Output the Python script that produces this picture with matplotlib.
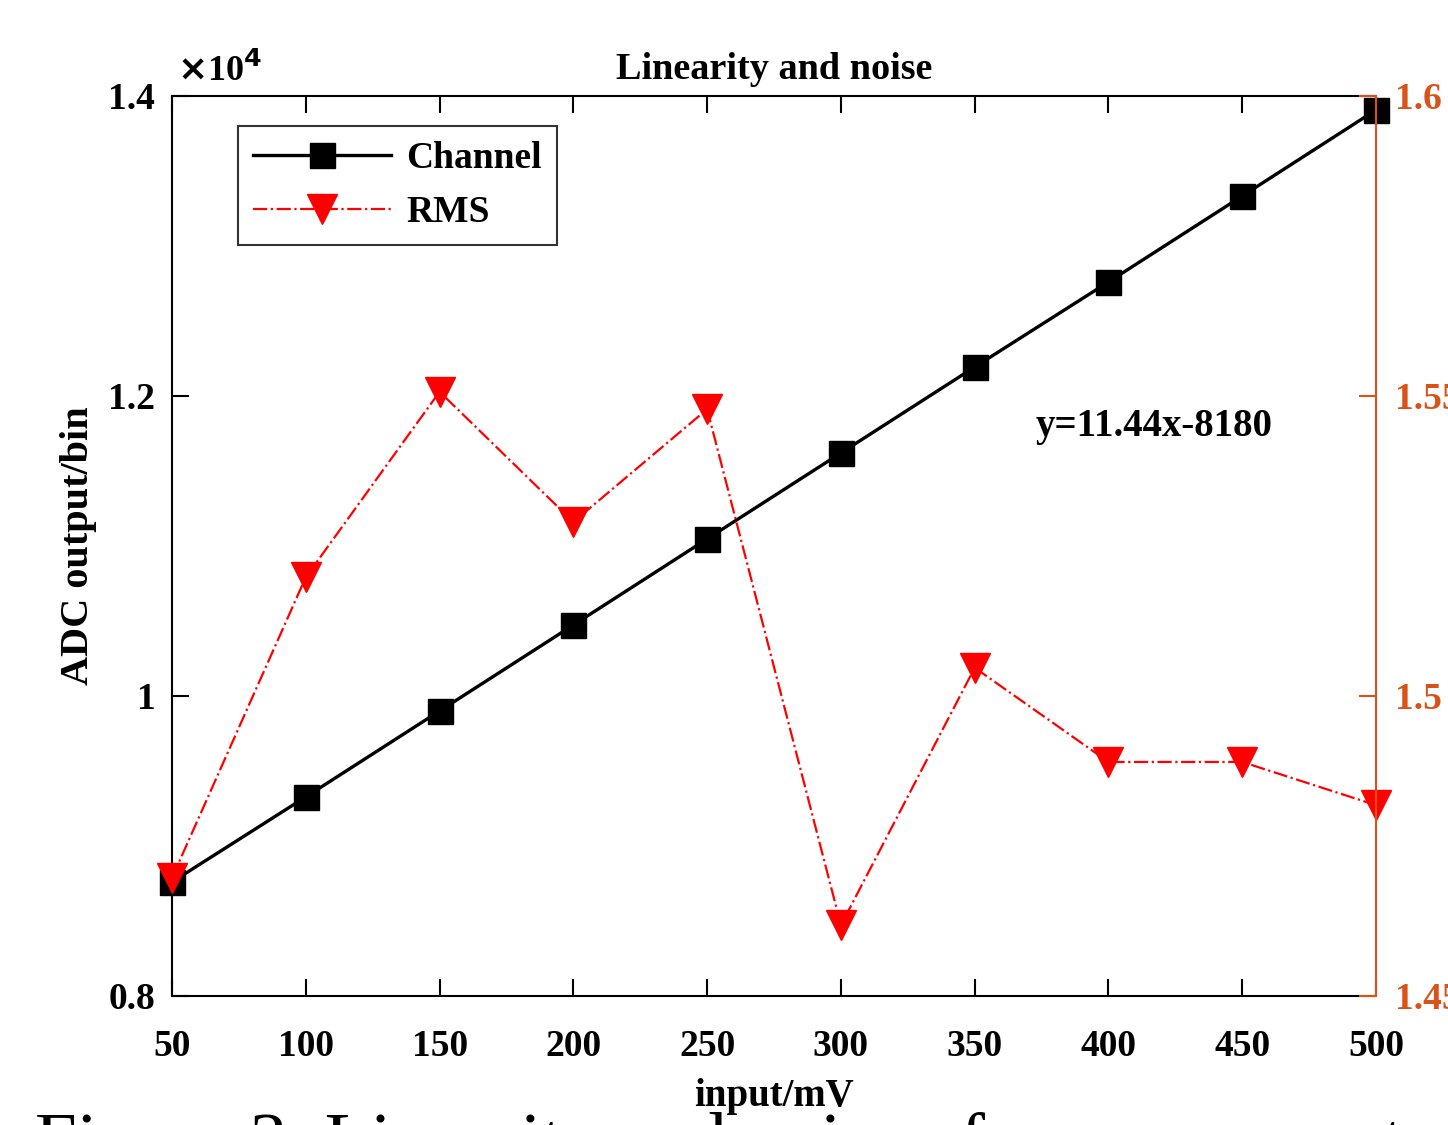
import matplotlib.pyplot as plt
import numpy as np

# data
x = np.array([50, 100, 150, 200, 250, 300, 350, 400, 450, 500])
channel = np.array([8760, 9327, 9900, 10473, 11047, 11620, 12193, 12760, 13333, 13907])
rms = np.array([1.4697, 1.5198, 1.5507, 1.529, 1.5478, 1.4618, 1.5047, 1.489, 1.489, 1.4818])
xticks = [50, 100, 150, 200, 250, 300, 350, 400, 450, 500]
yticks_left = [8000, 10000, 12000, 14000]
yticklabels_left = ['0.8', '1', '1.2', '1.4']
yticks_right = [1.45, 1.5, 1.55, 1.6]
yticklabels_right = ['1.45', '1.5', '1.55', '1.6']

plt.rcParams['font.family'] = ['Liberation Serif', 'DejaVu Serif']
plt.rcParams['font.weight'] = 'bold'
orange = '#D95319'

fig = plt.figure(figsize=(14.48, 11.25), dpi=100)
ax = fig.add_axes([0.1188, 0.1147, 0.8315, 0.8])
ax2 = ax.twinx()

l1, = ax.plot(x, channel, color='black', linewidth=2.4, marker='s', markersize=18,
              label='Channel', zorder=3, clip_on=False)
l2, = ax2.plot(x, rms, color='red', linewidth=1.6, linestyle='-.', marker='v',
               markersize=22, label='RMS', zorder=2, clip_on=False)

ax.set_xlim(50, 500)
ax.set_ylim(8000, 14000)
ax2.set_ylim(1.45, 1.6)

ax.set_xticks(xticks)
ax.set_xticklabels([str(v) for v in xticks])
ax.set_yticks(yticks_left)
ax.set_yticklabels(yticklabels_left)
ax2.set_yticks(yticks_right)
ax2.set_yticklabels(yticklabels_right)

ax.tick_params(axis='x', direction='in', length=12, width=1.5, top=True,
               labelsize=27, pad=24)
ax.tick_params(axis='y', direction='in', length=12, width=1.5, labelsize=27, pad=12)
ax2.tick_params(axis='y', direction='in', length=12, width=1.5, labelsize=27,
                colors=orange, pad=14)

for s in ['left', 'bottom', 'top']:
    ax.spines[s].set_linewidth(1.5)
ax.spines['right'].set_visible(False)
ax2.spines['right'].set_color(orange)
ax2.spines['right'].set_linewidth(1.5)
ax2.spines['left'].set_visible(False)
ax2.spines['bottom'].set_visible(False)
ax2.spines['top'].set_visible(False)

ax.set_title('Linearity and noise', fontsize=27.5, fontweight='bold', pad=12)
ax.set_ylabel('ADC output/bin', fontsize=29, fontweight='bold', labelpad=8)
ax.set_xlabel('input/mV', fontsize=28, fontweight='bold', labelpad=10)

fig.text(0.122, 0.928, r'$\times$10$^{4}$', fontsize=26, fontweight='bold')
ax.text(0.717, 0.622, 'y=11.44x-8180', transform=ax.transAxes, fontsize=28,
        fontweight='bold')

leg = ax.legend(handles=[l1, l2], loc='upper left', bbox_to_anchor=(0.039, 0.987),
                fontsize=27, frameon=True, fancybox=False, edgecolor='black',
                handlelength=3.7, borderpad=0.4, labelspacing=0.5, handletextpad=0.4)
leg.get_frame().set_linewidth(1.5)
leg.set_zorder(5)

fig.text(0.024, 0.012, 'Figure 3. Linearity and noise of measurement results',
         fontsize=54, fontweight='normal', va='top', ha='left')

fig.savefig('out.png', dpi=100)
